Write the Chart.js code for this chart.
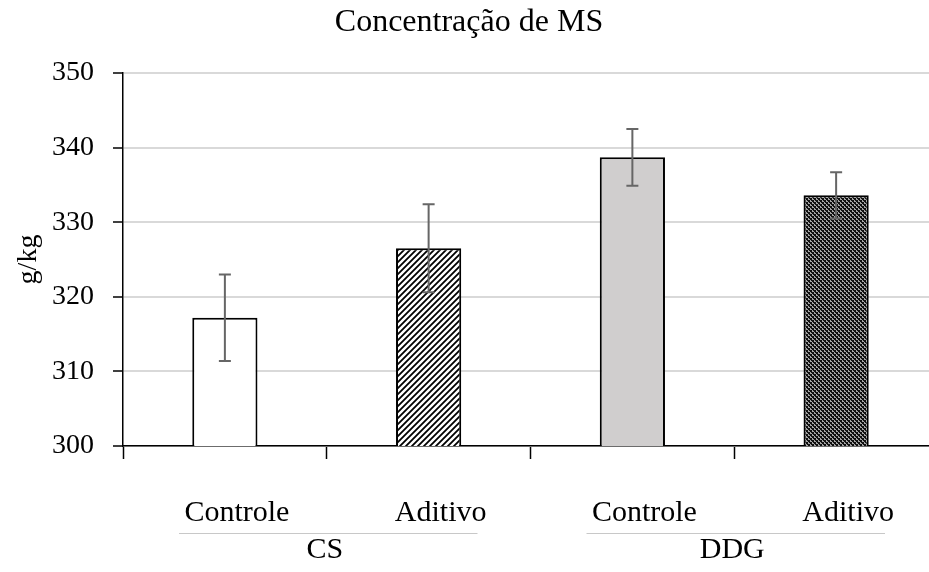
<!DOCTYPE html>
<html>
<head>
<meta charset="utf-8">
<script src="https://cdn.jsdelivr.net/npm/chart.js@4/dist/chart.umd.min.js"></script>
<style>
  html, body { margin: 0; padding: 0; background: #fff; overflow: hidden; }
  #wrap { width: 940px; height: 572px; }
</style>
</head>
<body>
<div id="wrap"><canvas id="myChart" width="940" height="572"></canvas></div>
<script>
// ---------------------------- data
var treatments = ["Controle", "Aditivo", "Controle", "Aditivo"];
var groups = ["CS", "DDG"];
var meanValues = [317.2, 326.5, 338.7, 333.6];
var errorValues = [5.8, 5.9, 3.8, 3.1];
var yTicks = [300, 310, 320, 330, 340, 350];

var serif = "'Liberation Serif', 'Times New Roman', serif";

// ---------------------------- fill patterns
function hatchPattern() {
    var c = document.createElement("canvas");
    c.width = 6; c.height = 6;
    var g = c.getContext("2d");
    g.fillStyle = "#fff";
    g.fillRect(0, 0, 6, 6);
    g.strokeStyle = "#000";
    g.lineWidth = 1.8;
    g.beginPath();
    g.moveTo(-1, 7); g.lineTo(7, -1);
    g.moveTo(-1, 1); g.lineTo(1, -1);
    g.moveTo(5, 7); g.lineTo(7, 5);
    g.stroke();
    return document.createElement("canvas").getContext("2d").createPattern(c, "repeat");
}

function checkerPattern() {
    var c = document.createElement("canvas");
    c.width = 4; c.height = 4;
    var g = c.getContext("2d");
    g.fillStyle = "#a6a6a6";
    g.fillRect(0, 0, 4, 4);
    g.fillStyle = "#111";
    g.fillRect(0, 0, 2, 2);
    g.fillRect(2, 2, 2, 2);
    g.fillRect(1, 2, 1, 1);
    g.fillRect(3, 0, 1, 1);
    return document.createElement("canvas").getContext("2d").createPattern(c, "repeat");
}

var barFills = ["#ffffff", hatchPattern(), "#d0cece", checkerPattern()];

// ---------------------------- error bars + group labels
var errorBarPlugin = {
    id: "errorBars",
    afterDatasetsDraw: function(chart) {
        var ctx = chart.ctx;
        var x = chart.scales.x;
        var y = chart.scales.y;
        ctx.save();
        ctx.strokeStyle = "#666";
        ctx.lineWidth = 2;
        for (var i = 0; i < meanValues.length; i++) {
            var px = x.getPixelForValue(i);
            var top = y.getPixelForValue(meanValues[i] + errorValues[i]);
            var bot = y.getPixelForValue(meanValues[i] - errorValues[i]);
            ctx.beginPath();
            ctx.moveTo(px, top); ctx.lineTo(px, bot);
            ctx.moveTo(px - 6, top); ctx.lineTo(px + 6, top);
            ctx.moveTo(px - 6, bot); ctx.lineTo(px + 6, bot);
            ctx.stroke();
        }
        ctx.restore();
    }
};

var groupLabelPlugin = {
    id: "groupLabels",
    afterDraw: function(chart) {
        var ctx = chart.ctx;
        var x = chart.scales.x;
        var half = (x.getPixelForValue(1) - x.getPixelForValue(0)) / 2;
        ctx.save();
        for (var gI = 0; gI < groups.length; gI++) {
            var left = x.getPixelForValue(gI * 2) - half;
            var right = x.getPixelForValue(gI * 2 + 1) + half;
            ctx.strokeStyle = "#c8c8c8";
            ctx.lineWidth = 1;
            ctx.beginPath();
            ctx.moveTo(left + 56, 533.5);
            ctx.lineTo(right - 53, 533.5);
            ctx.stroke();
            ctx.fillStyle = "#000";
            ctx.font = "30px " + serif;
            ctx.textAlign = "center";
            ctx.textBaseline = "alphabetic";
            ctx.fillText(groups[gI], (left + right) / 2 - 2, 558);
        }
        ctx.restore();
    }
};

// ---------------------------- chart
var ctx = document.getElementById("myChart").getContext("2d");
var chart = new Chart(ctx, {
    type: "bar",
    data: {
        labels: treatments,
        datasets: [{
            data: meanValues,
            backgroundColor: barFills,
            borderColor: "#000",
            borderWidth: 2,
            borderSkipped: false,
            barPercentage: 0.32,
            categoryPercentage: 1
        }]
    },
    options: {
        responsive: false,
        animation: false,
        layout: { padding: { left: 0, right: 2, top: 0, bottom: 0 } },
        plugins: {
            legend: { display: false },
            tooltip: { enabled: false },
            title: {
                display: true,
                text: "Concentração de MS",
                color: "#000",
                font: { family: serif, size: 32, weight: "normal" },
                padding: { top: 3, bottom: 31.6 }
            }
        },
        scales: {
            x: {
                offset: true,
                grid: {
                    offset: true,
                    drawOnChartArea: false,
                    drawTicks: true,
                    tickLength: 13,
                    tickColor: "#000",
                    tickWidth: 1.5
                },
                border: { color: "#000", width: 1.5 },
                ticks: {
                    color: "#000",
                    font: { family: serif, size: 30 },
                    padding: 36,
                    labelOffset: 12,
                    maxRotation: 0
                },
                afterFit: function(scale) { scale.height = 126; }
            },
            y: {
                min: 300,
                max: 350,
                afterBuildTicks: function(scale) {
                    scale.ticks = yTicks.map(function(v) { return { value: v }; });
                },
                grid: {
                    color: "#d9d9d9",
                    lineWidth: 2,
                    tickColor: "#000",
                    tickLength: 10,
                    tickWidth: 1.5
                },
                border: { color: "#000", width: 1.5 },
                ticks: {
                    color: "#000",
                    font: { family: serif, size: 28 },
                    padding: 19
                },
                title: {
                    display: true,
                    text: "g/kg",
                    color: "#000",
                    font: { family: serif, size: 28 },
                    padding: { top: 12, bottom: 0 }
                },
                afterFit: function(scale) { scale.width = 123; }
            }
        }
    },
    plugins: [errorBarPlugin, groupLabelPlugin]
});
</script>
</body>
</html>
